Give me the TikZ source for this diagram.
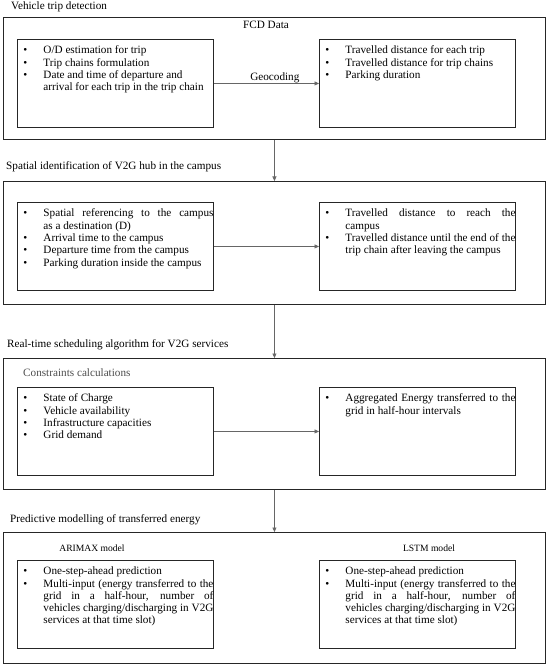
\documentclass[tikz,border=0pt]{standalone}
\usepackage{fontspec}
\setmainfont{Liberation Serif}
\usepackage{enumitem}
\usepackage{tikz}
\usetikzlibrary{arrows.meta}

\setlist[itemize]{label=\textbullet,leftmargin=26pt,rightmargin=4pt,
  labelwidth=6pt,labelsep=14pt,align=left,nosep}
\hyphenpenalty=10000
\exhyphenpenalty=10000
\tolerance=9000

% list of bullets inside a fixed size box
\newcommand{\boxitems}[1]{%
  \begin{minipage}[c][88pt][t]{200pt}
    \vspace*{6.5pt}
    \begin{itemize}#1\end{itemize}
  \end{minipage}}

\begin{document}
\begin{tikzpicture}[x=1pt,y=-1pt,every node/.style={font=\fontsize{11.2}{12.3}\selectfont}]
        \tikzstyle{stagebox}=[draw=black!85,line width=0.9pt,anchor=north west,
        minimum width=542pt,inner sep=0pt]
        \tikzstyle{listbox}=[draw=black!85,line width=0.9pt,anchor=north west,inner sep=0pt]
        \tikzstyle{stagetitle}=[anchor=base west,inner sep=0pt]
        \tikzstyle{boxhead}=[anchor=base,inner sep=0pt]
        \tikzstyle{modelhead}=[anchor=base,inner sep=0pt,font=\fontsize{9.6}{11}\selectfont]
        \tikzstyle{link}=[-{Triangle[length=4.5pt,width=4pt]},draw=black!60,line width=0.6pt]

        \useasboundingbox (0,0) rectangle (550,668);

        %% Vehicle trip detection
        \begin{scope}
            \node[stagetitle] (title_1) at (11,9.5) {Vehicle trip detection};
            \node[stagebox,minimum height=122pt] (stage_1) at (3,17) {};
            \node[boxhead] (fcd) at (266,28.5) {FCD Data};

            \node[listbox] (trip_in) at (17,39) {\boxitems{
                \item O/D estimation for trip
                \item Trip chains formulation
                \item Date and time of departure and\newline
                      arrival for each trip in the trip chain}};
            \node[listbox] (trip_out) at (319,39) {\boxitems{
                \item Travelled distance for each trip
                \item Travelled distance for trip chains
                \item Parking duration}};

            % Edges
            \path[link] (trip_in) -- node[pos=0.58,above,inner sep=0pt] (geo) {Geocoding} (trip_out);
        \end{scope}

        %% Spatial identification of V2G hub
        \begin{scope}
            \node[stagetitle] (title_2) at (6,169.5) {Spatial identification of V2G hub in the campus};
            \node[stagebox,minimum height=123pt] (stage_2) at (3,181) {};

            \node[listbox] (hub_in) at (17,202) {\boxitems{
                \item Spatial referencing to the campus\linebreak
                      as a destination (D)
                \item Arrival time to the campus
                \item Departure time from the campus
                \item Parking duration inside the campus}};
            \node[listbox] (hub_out) at (319,202) {\boxitems{
                \item Travelled distance to reach the\linebreak
                      campus
                \item Travelled distance until the end of the\linebreak
                      trip chain after leaving the campus}};

            % Edges
            \path[link] (hub_in) -- (hub_out);
        \end{scope}

        %% Real-time scheduling algorithm
        \begin{scope}
            \node[stagetitle] (title_3) at (7,347.5) {Real-time scheduling algorithm for V2G services};
            \node[stagebox,minimum height=131pt] (stage_3) at (3,358) {};
            \node[stagetitle,text=black!70] (constr) at (23,376.5) {Constraints calculations};

            \node[listbox] (sched_in) at (17,387) {\boxitems{
                \item State of Charge
                \item Vehicle availability
                \item Infrastructure capacities
                \item Grid demand}};
            \node[listbox] (sched_out) at (319,387) {\boxitems{
                \item Aggregated Energy transferred to the\linebreak
                      grid in half-hour intervals}};

            % Edges
            \path[link] (sched_in) -- (sched_out);
        \end{scope}

        %% Predictive modelling
        \begin{scope}
            \node[stagetitle] (title_4) at (10,522.5) {Predictive modelling of transferred energy};
            \node[stagebox,minimum height=131pt] (stage_4) at (3,532) {};
            \node[modelhead] (arimax_head) at (92,551.5) {ARIMAX model};
            \node[modelhead] (lstm_head) at (429,551.5) {LSTM model};

            \node[listbox] (arimax) at (17,560) {\boxitems{
                \item One-step-ahead prediction
                \item Multi-input (energy transferred to the\linebreak
                      grid in a half-hour, number of\linebreak
                      vehicles charging/discharging in V2G\linebreak
                      services at that time slot)}};
            \node[listbox] (lstm) at (319,560) {\boxitems{
                \item One-step-ahead prediction
                \item Multi-input (energy transferred to the\linebreak
                      grid in a half-hour, number of\linebreak
                      vehicles charging/discharging in V2G\linebreak
                      services at that time slot)}};
        \end{scope}

        %% Link the stages
        \path[link] (stage_1) -- (stage_2);
        \path[link] (stage_2) -- (stage_3);
        \path[link] (stage_3) -- (stage_4);

    \end{tikzpicture}
\end{document}
